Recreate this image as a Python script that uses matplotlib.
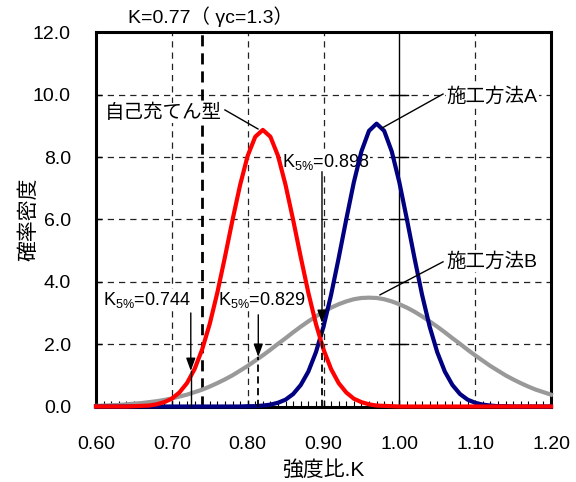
#!/usr/bin/env python3
import numpy as np
import matplotlib
matplotlib.use("Agg")
import matplotlib.pyplot as plt
from matplotlib.ticker import MultipleLocator

plt.rcParams['font.family'] = ['Liberation Sans', 'Noto Sans CJK JP']
plt.rcParams['font.size'] = 14

# strength ratio K, step 0.01 from 0.60 to 1.20
k = np.round(np.arange(0.60, 1.2001, 0.01), 2)

# probability density
self_compacting = [0.00, 0.00, 0.00, 0.00, 0.00, 0.01, 0.02, 0.03, 0.07, 0.14,
                   0.25, 0.45, 0.75, 1.20, 1.83, 2.65, 3.65, 4.79, 5.98, 7.10,
                   8.04, 8.65, 8.87, 8.65, 8.04, 7.10, 5.98, 4.79, 3.65, 2.65,
                   1.83, 1.20, 0.75, 0.45, 0.25, 0.14, 0.07, 0.03, 0.02, 0.01,
                   0.00, 0.00, 0.00, 0.00, 0.00, 0.00, 0.00, 0.00, 0.00, 0.00,
                   0.00, 0.00, 0.00, 0.00, 0.00, 0.00, 0.00, 0.00, 0.00, 0.00, 0.00]
method_a = [0.00, 0.00, 0.00, 0.00, 0.00, 0.00, 0.00, 0.00, 0.00, 0.00,
            0.00, 0.00, 0.00, 0.00, 0.00, 0.00, 0.00, 0.00, 0.00, 0.00,
            0.01, 0.01, 0.03, 0.06, 0.12, 0.22, 0.40, 0.69, 1.12, 1.74,
            2.56, 3.58, 4.76, 6.00, 7.19, 8.18, 8.84, 9.07, 8.84, 8.18,
            7.19, 6.00, 4.76, 3.58, 2.56, 1.74, 1.12, 0.69, 0.40, 0.22,
            0.12, 0.06, 0.03, 0.01, 0.01, 0.00, 0.00, 0.00, 0.00, 0.00, 0.00]
method_b = [0.02, 0.03, 0.04, 0.05, 0.07, 0.09, 0.11, 0.14, 0.17, 0.21,
            0.26, 0.32, 0.38, 0.46, 0.54, 0.64, 0.75, 0.87, 1.00, 1.15,
            1.30, 1.47, 1.64, 1.82, 2.01, 2.19, 2.38, 2.56, 2.73, 2.89,
            3.04, 3.17, 3.28, 3.37, 3.44, 3.48, 3.49, 3.48, 3.44, 3.37,
            3.28, 3.17, 3.04, 2.89, 2.73, 2.56, 2.38, 2.19, 2.01, 1.82,
            1.64, 1.47, 1.30, 1.15, 1.00, 0.87, 0.75, 0.64, 0.54, 0.46, 0.38]

k5_labels = ["0.744", "0.829", "0.898"]
k5_pos = [0.725, 0.814, 0.898]
k_line = 0.74

fig = plt.figure(figsize=(5.76, 4.82), dpi=100)
ax = fig.add_axes([96/576, 75.5/482, 455/576, 374.2/482])
ax.set_xlim(0.6, 1.2)
ax.set_ylim(0, 12)

grid = dict(color='#222222', lw=0.9, dashes=(5, 4), zorder=1)
for y in [2, 4, 6, 8, 10]:
    ax.axhline(y, **grid)
for x in [0.7, 0.8, 0.9, 1.1]:
    ax.axvline(x, **grid)
ax.axvline(1.0, color='black', lw=1.0, zorder=1)
for y in [2, 4, 6, 8, 10]:
    ax.plot([0.989, 1.011], [y, y], color='black', lw=1.0, zorder=1)
ax.axvline(k_line, color='black', lw=2.0, dashes=(4, 2.5), zorder=1)

ax.plot(k, method_b, color='#999999', lw=3, zorder=3, clip_on=False)
ax.plot(k, method_a, color='#000080', lw=3, zorder=4, clip_on=False)
ax.plot(k, self_compacting, color='#ff0000', lw=3, zorder=5, clip_on=False)

# K5% arrows
arrow_top = [3.0, 2.94, 7.53]
arrow_tip = [1.14, 1.59, 2.68]
for x, y0, y1 in zip(k5_pos, arrow_top, arrow_tip):
    ax.annotate("", xy=(x, y1), xytext=(x, y0), zorder=6,
                arrowprops=dict(arrowstyle='-|>,head_length=0.55,head_width=0.2',
                                color='black', lw=1.0, shrinkA=0, shrinkB=0))
ax.plot([k5_pos[0], k5_pos[0]], [0, arrow_tip[0]], color='black', lw=1.0, zorder=6)
for x, y1 in zip(k5_pos[1:], arrow_tip[1:]):
    ax.plot([x, x], [0, y1], color='black', lw=1.3, dashes=(4, 2.5), zorder=6)

box = dict(facecolor='white', edgecolor='none', pad=0.5)
ax.text(0.6096, 3.42, r"K$_{\mathregular{5\%}}$=" + k5_labels[0], fontsize=13, va='center', zorder=2, bbox=box)
ax.text(0.7605, 3.42, r"K$_{\mathregular{5\%}}$=" + k5_labels[1], fontsize=13, va='center', zorder=2, bbox=box)
ax.text(0.8449, 7.85, r"K$_{\mathregular{5\%}}$=" + k5_labels[2], fontsize=13, va='center', zorder=2, bbox=box)

# curve labels with leader lines
ax.text(0.612, 9.41, "自己充てん型", fontsize=14, va='center', zorder=2, bbox=box)
ax.plot([0.770, 0.8136], [9.51, 8.90], color='black', lw=1.0, zorder=7)
ax.text(1.0625, 9.94, "施工方法A", fontsize=14, va='center', zorder=2, bbox=box)
ax.plot([1.0576, 0.9772], [10.02, 8.93], color='black', lw=1.0, zorder=7)
ax.text(1.0625, 4.645, "施工方法B", fontsize=14, va='center', zorder=2, bbox=box)
ax.plot([1.0576, 0.9745], [4.64, 3.58], color='black', lw=1.0, zorder=7)

ax.set_xticks([0.6, 0.7, 0.8, 0.9, 1.0, 1.1, 1.2])
ax.set_xticklabels(["0.60", "0.70", "0.80", "0.90", "1.00", "1.10", "1.20"])
ax.xaxis.set_minor_locator(MultipleLocator(0.01))
ax.set_yticks([0, 2, 4, 6, 8, 10, 12])
ax.set_yticklabels(["0.0", "2.0", "4.0", "6.0", "8.0", "10.0", "12.0"])
ax.tick_params(axis='x', which='major', direction='in', length=5, width=1, pad=21)
ax.tick_params(axis='x', which='minor', direction='in', length=4, width=0.8)
ax.tick_params(axis='y', which='major', direction='in', length=4, width=1, pad=18)

for s in ax.spines.values():
    s.set_linewidth(2.2)

ax.set_xlabel("強度比.K", fontsize=15, labelpad=5)
ax.set_ylabel("確率密度", fontsize=15, labelpad=-4)
fig.text(128/576, 1 - 17/482, "K=0.77（ γc=1.3）", fontsize=14, va='center', ha='left')

fig.savefig("out.png", dpi=100)
